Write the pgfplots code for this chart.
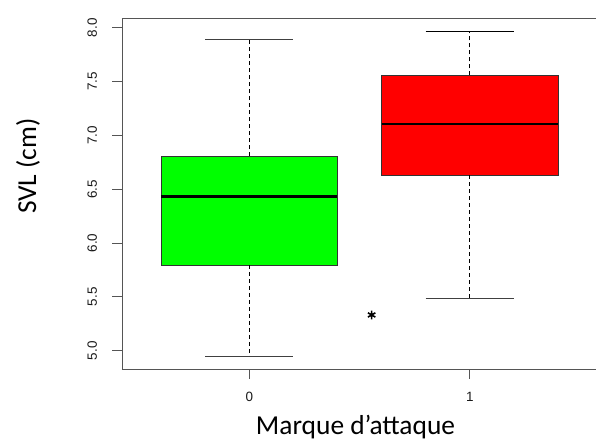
\documentclass[border=0pt]{standalone}
\usepackage{fontspec}
\setmainfont{Liberation Sans}
\newfontfamily\calibri{Carlito}
\usepackage{pgfplots}
\pgfplotsset{compat=1.18}
\definecolor{rgreen}{HTML}{00FF00}
\definecolor{rred}{HTML}{FF0000}
\definecolor{axgray}{HTML}{555555}
\begin{document}
\begin{tikzpicture}
\begin{axis}[
  scale only axis,
  width=475bp, height=351bp,
  xmin=-0.577, xmax=1.577,
  ymin=4.83, ymax=8.09,
  axis x line=box, axis y line=left,
  x axis line style={-, draw=axgray, line width=0.8pt},
  y axis line style={-, draw=axgray, line width=0.8pt},
  tick align=outside,
  major tick length=9.5bp,
  tick style={draw=axgray, line width=0.8pt},
  xtick={0,1}, xticklabels={0,1},
  xtick pos=bottom, ytick pos=left,
  ytick={5,5.5,6,6.5,7,7.5,8},
  yticklabel style={rotate=90, anchor=south, /pgf/number format/fixed, /pgf/number format/fixed zerofill, /pgf/number format/precision=1},
  /pgf/number format/assume math mode=true,
  tick label style={font=\fontsize{13.5}{16}\selectfont, text=black!90},
  xticklabel shift=10bp,
  yticklabel shift=12bp,
  xlabel={Marque d’attaque},
  ylabel={SVL (cm)},
  label style={font=\calibri\fontsize{27.5}{32}\selectfont},
  xlabel style={at={(axis description cs:0.4916,-0.186)}, anchor=base},
  ylabel style={at={(axis description cs:-0.198,0.578)}, anchor=center, rotate=0},
  clip=false,
]
% boxes
\addplot[draw=black!80, fill=rgreen, line width=0.7pt] coordinates {(-0.4,5.797) (0.4,5.797) (0.4,6.806) (-0.4,6.806)} -- cycle;
\addplot[draw=black!80, fill=rred, line width=0.7pt] coordinates {(0.6,6.629) (1.4,6.629) (1.4,7.558) (0.6,7.558)} -- cycle;
% medians
\addplot[black, line width=2.8pt] coordinates {(-0.4,6.431) (0.4,6.431)};
\addplot[black, line width=2.8pt] coordinates {(0.6,7.106) (1.4,7.106)};
% whiskers (dashed)
\addplot[black, line width=0.7pt, dash pattern=on 4bp off 3bp] coordinates {(0,6.806) (0,7.889)};
\addplot[black, line width=0.7pt, dash pattern=on 4bp off 3bp] coordinates {(0,5.797) (0,4.945)};
\addplot[black, line width=0.7pt, dash pattern=on 4bp off 3bp] coordinates {(1,7.558) (1,7.966)};
\addplot[black, line width=0.7pt, dash pattern=on 4bp off 3bp] coordinates {(1,6.629) (1,5.484)};
% caps
\addplot[black!75, line width=0.8pt] coordinates {(-0.2,7.889) (0.2,7.889)};
\addplot[black!75, line width=0.8pt] coordinates {(-0.2,4.945) (0.2,4.945)};
\addplot[black, line width=0.8pt] coordinates {(0.8,7.966) (1.2,7.966)};
\addplot[black!75, line width=0.8pt] coordinates {(0.8,5.484) (1.2,5.484)};
% asterisk
\addplot[only marks, mark=asterisk, mark size=4.3bp, mark options={line width=1.6pt, black}] coordinates {(0.555,5.332)};
\end{axis}
\pgfresetboundingbox
\path[use as bounding box] ([xshift=-122bp,yshift=-74bp]current axis.south west) rectangle ([xshift=-1bp,yshift=18bp]current axis.north east);
\end{tikzpicture}
\end{document}
